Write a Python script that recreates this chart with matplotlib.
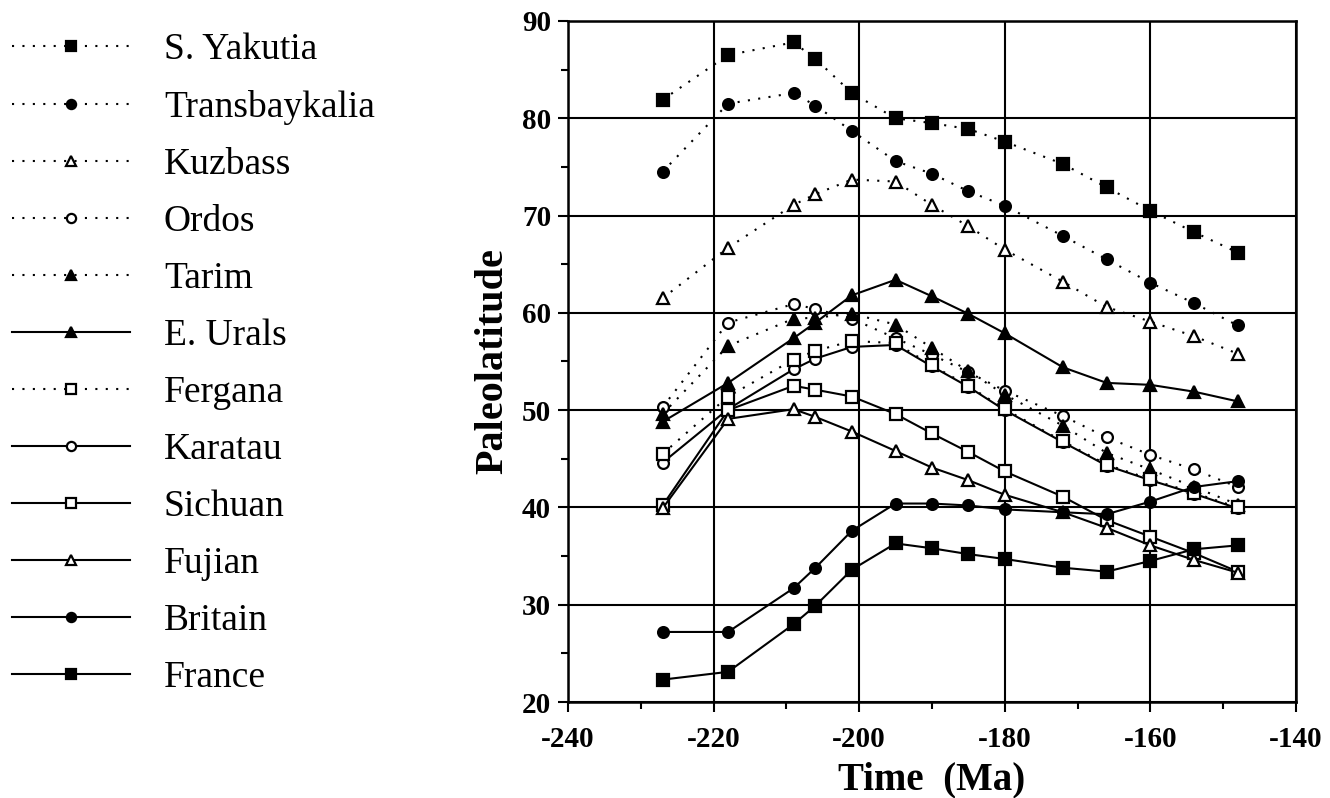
import matplotlib

matplotlib.use("Agg")
import matplotlib.pyplot as plt
from matplotlib.ticker import MultipleLocator

plt.rcParams["font.family"] = ["Liberation Serif", "DejaVu Serif"]
plt.rcParams["axes.unicode_minus"] = False

# ages (Ma) of the reference poles
time_ma = [-227, -218, -209, -206, -201, -195, -190, -185, -180, -172, -166, -160, -154, -148]

names = ["S. Yakutia", "Transbaykalia", "Kuzbass", "Ordos", "Tarim", "E. Urals",
         "Fergana", "Karatau", "Sichuan", "Fujian", "Britain", "France"]

s_yakutia = [81.9, 86.5, 87.8, 86.1, 82.6, 80.0, 79.5, 78.9, 77.6, 75.3, 72.9, 70.5, 68.3, 66.2]
transbaykalia = [74.5, 81.5, 82.6, 81.3, 78.7, 75.6, 74.3, 72.5, 71.0, 67.9, 65.5, 63.1, 61.0, 58.7]
kuzbass = [61.5, 66.7, 71.1, 72.2, 73.7, 73.5, 71.1, 68.9, 66.5, 63.2, 60.6, 59.1, 57.6, 55.8]
ordos = [50.3, 59.0, 60.9, 60.4, 59.4, 57.4, 55.7, 53.9, 52.0, 49.4, 47.2, 45.4, 43.9, 42.1]
tarim = [49.6, 56.6, 59.4, 59.5, 59.9, 58.8, 56.4, 54.0, 51.6, 48.4, 45.6, 43.9, 42.1, 40.3]
e_urals = [48.8, 52.8, 57.4, 59.0, 61.8, 63.4, 61.7, 59.9, 57.9, 54.4, 52.8, 52.6, 51.9, 50.9]
fergana = [45.5, 51.4, 55.2, 56.1, 57.1, 56.9, 54.6, 52.5, 50.1, 46.8, 44.4, 42.9, 41.5, 40.0]
karatau = [44.6, 50.1, 54.2, 55.3, 56.5, 56.7, 54.5, 52.4, 50.0, 46.7, 44.3, 42.8, 41.4, 39.9]
sichuan = [40.2, 50.0, 52.5, 52.1, 51.4, 49.6, 47.6, 45.7, 43.7, 41.1, 38.7, 37.0, 35.3, 33.4]
fujian = [39.9, 49.1, 50.1, 49.3, 47.8, 45.8, 44.1, 42.8, 41.3, 39.5, 37.9, 36.1, 34.6, 33.3]
britain = [27.2, 27.2, 31.7, 33.8, 37.6, 40.4, 40.4, 40.2, 39.8, 39.5, 39.3, 40.6, 42.1, 42.7]
france = [22.3, 23.1, 28.0, 29.9, 33.6, 36.3, 35.8, 35.2, 34.7, 33.8, 33.4, 34.5, 35.7, 36.1]

series = [s_yakutia, transbaykalia, kuzbass, ordos, tarim, e_urals,
          fergana, karatau, sichuan, fujian, britain, france]

markers = ["s", "o", "^", "o", "^", "^", "s", "o", "s", "^", "o", "s"]
filled = [True, True, False, False, True, True, False, False, False, False, True, True]
dotted = [True, True, True, True, True, False, True, False, False, False, False, False]

fig = plt.figure(figsize=(13.3, 7.98), dpi=100)
ax = fig.add_axes([0.427, 0.1203, 0.5474, 0.8534])

handles = []
for i, vals in enumerate(series):
    ls = (0, (1, 4)) if dotted[i] else "-"
    ms = {"s": 8.6, "o": 7.8, "^": 8.2}[markers[i]]
    # Karatau sits under the Fergana squares after -195 Ma
    z = 3 if names[i] == "Karatau" else 4
    (ln,) = ax.plot(time_ma, vals, linestyle=ls, color="black", lw=1.5,
                    marker=markers[i], markersize=ms,
                    markerfacecolor="black" if filled[i] else "white",
                    markeredgecolor="black", markeredgewidth=1.6,
                    label=names[i], zorder=z)
    handles.append(ln)

ax.set_xlim(-240, -140)
ax.set_ylim(20, 90)
ax.xaxis.set_major_locator(MultipleLocator(20))
ax.xaxis.set_minor_locator(MultipleLocator(10))
ax.yaxis.set_major_locator(MultipleLocator(10))
ax.yaxis.set_minor_locator(MultipleLocator(5))
ax.grid(True, which="major", color="black", lw=1.5)
ax.set_axisbelow(True)
for sp in ax.spines.values():
    sp.set_linewidth(1.8)

ax.tick_params(which="major", direction="out", length=7, width=1.5, labelsize=21)
ax.tick_params(which="minor", direction="out", length=5, width=1.5)
ax.tick_params(axis="x", pad=10)
ax.tick_params(axis="y", pad=5)
for lab in ax.get_xticklabels() + ax.get_yticklabels():
    lab.set_fontweight("bold")

ax.set_xlabel("Time  (Ma)", fontsize=28, fontweight="bold", labelpad=6)
ax.set_ylabel("Paleolatitude", fontsize=29, fontweight="bold", labelpad=8)

fig.legend(handles=handles, loc="upper left", bbox_to_anchor=(0.009, 0.959),
           frameon=False, fontsize=27, handlelength=3.15, handletextpad=0.9,
           labelspacing=0.6, borderpad=0, borderaxespad=0, markerscale=0.85)

fig.savefig("out.png", dpi=100)
